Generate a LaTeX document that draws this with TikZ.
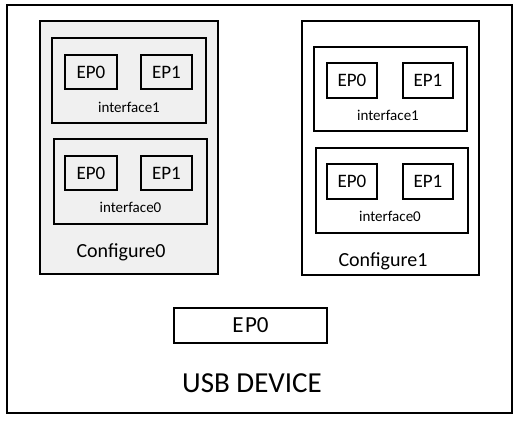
\documentclass[tikz,border=0pt]{standalone}
\usepackage{fontspec}
\setmainfont{Carlito}
\definecolor{cfggray}{HTML}{F0F0F0}
\tikzset{
  box/.style={draw=black, line width=1.6pt, inner sep=0pt, rectangle},
  ep/.style={box, font=\fontsize{19}{19}\selectfont},
  iflbl/.style={inner sep=0pt, anchor=center, font=\fontsize{15}{15}\selectfont},
  cfglbl/.style={inner sep=0pt, anchor=center, font=\fontsize{20}{20}\selectfont},
}
\begin{document}
\begin{tikzpicture}[x=1pt,y=-1pt]
\useasboundingbox (0,0) rectangle (520,421);
% outer
\node[box, minimum width=505pt, minimum height=408pt] (dev) at (259.5,209) {};
% Configure0
\node[box, fill=cfggray, minimum width=178pt, minimum height=253pt] (c0) at (129,147.5) {};
\node[box, minimum width=154pt, minimum height=85pt] (c0i1) at (129,80.5) {};
\node[ep, minimum width=52pt, minimum height=34pt] (c0i1e0) at (91,72) {EP0};
\node[ep, minimum width=51pt, minimum height=34pt] (c0i1e1) at (166.5,72) {EP1};
\node[iflbl] (c0i1l) at (129,107) {interface1};
\node[box, minimum width=153pt, minimum height=85pt] (c0i0) at (130.5,181.5) {};
\node[ep, minimum width=52pt, minimum height=34pt] (c0i0e0) at (91,173) {EP0};
\node[ep, minimum width=51pt, minimum height=34pt] (c0i0e1) at (166.5,173) {EP1};
\node[iflbl] (c0i0l) at (130.5,207) {interface0};
\node[cfglbl] (c0l) at (121,252) {Configure0};
% Configure1
\node[box, fill=white, minimum width=177pt, minimum height=254pt] (c1) at (390.5,148) {};
\node[box, minimum width=153pt, minimum height=84pt] (c1i1) at (390.5,89) {};
\node[ep, minimum width=50pt, minimum height=35pt] (c1i1e0) at (352,80.5) {EP0};
\node[ep, minimum width=50pt, minimum height=35pt] (c1i1e1) at (428,80.5) {EP1};
\node[iflbl] (c1i1l) at (388,115) {interface1};
\node[box, minimum width=152pt, minimum height=85pt] (c1i0) at (392,190.5) {};
\node[ep, minimum width=50pt, minimum height=35pt] (c1i0e0) at (352,181.5) {EP0};
\node[ep, minimum width=50pt, minimum height=35pt] (c1i0e1) at (428,181.5) {EP1};
\node[iflbl] (c1i0l) at (390,216) {interface0};
\node[cfglbl] (c1l) at (383,261) {Configure1};
% device EP0
\node[box, minimum width=153pt, minimum height=35pt, font=\fontsize{23}{23}\selectfont] (dep0) at (250.5,325.5) {E\kern1.5pt P0};
\node[inner sep=0pt, font=\fontsize{29}{29}\selectfont] (devl) at (252,383) {USB DEVICE};
\end{tikzpicture}
\end{document}
